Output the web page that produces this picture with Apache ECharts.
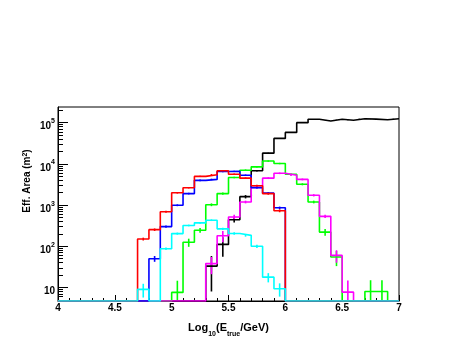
<!DOCTYPE html>
<html><head><meta charset="utf-8">
<script src="https://cdn.jsdelivr.net/npm/echarts@6.0.0/dist/echarts.min.js"></script>
<style>html,body{margin:0;padding:0;background:#fff}#c{width:458px;height:354px}</style>
</head><body><div id="c"></div>
<script>
// ---- data ----
const BIN_EDGES = [4.0,4.1,4.2,4.3,4.4,4.5,4.6,4.7,4.8,4.9,5.0,5.1,5.2,5.3,5.4,5.5,5.6,5.7,5.8,5.9,6.0,6.1,6.2,6.3,6.4,6.5,6.6,6.7,6.8,6.9,7.0];
const X_TICK_LABELS = ['4','4.5','5','5.5','6','6.5','7'];
const Y_DECADE_LABELS = ['10','10^2','10^3','10^4','10^5'];

const black   = [0,0,0,0,0,0,0,0,0,0,0,0,0,33,111,440,1600,6800,18200,41500,58000,100000,121000,110000,121000,114000,124000,122000,118000,124000];
const blackErr= [0,0,0,0,0,0,0,0,0,0,0,0,0,25,55,60,150,300,500,700,900,1000,1000,1000,1000,1000,1000,1000,1000,1000];
const red     = [0,0,0,0,0,0,0,150,253,690,1990,2640,4970,5460,6830,5600,4500,2950,1900,730,0,0,0,0,0,0,0,0,0,0];
const redErr  = [0,0,0,0,0,0,0,12,18,40,90,110,200,200,250,220,200,150,110,60,0,0,0,0,0,0,0,0,0,0];
const blue    = [0,0,0,0,0,0,0,0,50,300,990,1900,3980,4200,6520,6600,5300,2650,1950,860,0,0,0,0,0,0,0,0,0,0];
const blueErr = [0,0,0,0,0,0,0,0,8,20,50,90,170,180,250,250,220,140,110,60,0,0,0,0,0,0,0,0,0,0];
const green   = [0,0,0,0,0,0,0,0,0,0,7.6,125,244,1020,1900,4670,7030,8460,11700,10200,5600,3200,1190,221,55,0,0,8,8,0];
const greenErr= [0,0,0,0,0,0,0,0,0,0,7,28,32,80,110,220,300,350,450,400,280,180,90,42,22,0,0,7,7,0];
const magenta = [0,0,0,0,0,0,0,0,0,0,0,0,0,38,180,513,1190,2670,4500,5900,5300,4200,1730,533,60,7.7,0,0,0,0];
const magentaErr=[0,0,0,0,0,0,0,0,0,0,0,0,0,17,55,70,90,140,220,260,250,210,110,50,20,7,0,0,0,0];
const cyan    = [0,0,0,0,0,0,0,9,0,87,203,320,370,430,265,205,184,100,17.8,9.3,0,0,0,0,0,0,0,0,0,0];
const cyanErr = [0,0,0,0,0,0,0,3.3,0,6,12,15,17,20,15,14,13,9,4.5,3.3,0,0,0,0,0,0,0,0,0,0];

const X_MIN = 4, X_MAX = 7;
const Y_MIN = 4.7, Y_MAX = 2.4e5;

// ---- build ----
const FONT = 'Liberation Sans, Arial, Helvetica, sans-serif';
const LMIN = Math.log10(Y_MIN), LMAX = Math.log10(Y_MAX);
const minorLog = [];
for (let n = 0; n <= 5; n++) for (let k = 2; k <= 9; k++) {
  const l = Math.log10(k * Math.pow(10, n));
  if (l > LMIN && l < LMAX) minorLog.push(l);
}

function stepData(vals) {
  const d = vals.map((v, i) => [BIN_EDGES[i], v > 0 ? v : Y_MIN]);
  d.push([BIN_EDGES[BIN_EDGES.length - 1], vals[vals.length - 1] > 0 ? vals[vals.length - 1] : Y_MIN]);
  return d;
}
function errData(vals, errs) {
  const d = [];
  vals.forEach((v, i) => {
    if (v > 0 && errs[i] > 0) d.push([(BIN_EDGES[i] + BIN_EDGES[i + 1]) / 2, v, errs[i]]);
  });
  return d;
}
function histSeries(name, vals, errs, color) {
  return [{
    name: name, type: 'line', step: 'end', data: stepData(vals), symbol: 'none',
    lineStyle: { color: color, width: 1.6 }, clip: true, silent: true
  }, {
    name: name + ' err', type: 'custom', data: errData(vals, errs), clip: true, silent: true,
    encode: { x: 0, y: 1 },
    renderItem: function (params, api) {
      const x = api.value(0), v = api.value(1), e = api.value(2);
      const top = api.coord([x, Math.min(v + e, Y_MAX)]);
      const bot = api.coord([x, Math.max(v - e, Y_MIN)]);
      return { type: 'line', shape: { x1: top[0], y1: top[1], x2: bot[0], y2: bot[1] },
               style: { stroke: color, lineWidth: 1.6 } };
    }
  }];
}

const series = [].concat(
  histSeries('black', black, blackErr, '#000000'),
  histSeries('green', green, greenErr, '#00ff00'),
  histSeries('magenta', magenta, magentaErr, '#ff00ff'),
  histSeries('blue', blue, blueErr, '#0000ff'),
  histSeries('red', red, redErr, '#ff0000'),
  histSeries('cyan', cyan, cyanErr, '#00ffff')
);

const chart = echarts.init(document.getElementById('c'), null, { renderer: 'canvas' });
chart.setOption({
  animation: false,
  backgroundColor: '#ffffff',
  grid: { left: 58, right: 59, top: 107, bottom: 53, show: true, borderColor: '#000', borderWidth: 1, backgroundColor: 'transparent' },
  xAxis: {
    type: 'value', min: X_MIN, max: X_MAX, interval: 0.5,
    axisLine: { show: true, lineStyle: { color: '#000', width: 1 } },
    axisTick: { show: true, inside: true, length: 6, lineStyle: { color: '#000' } },
    minorTick: { show: true, splitNumber: 5, length: 3, lineStyle: { color: '#000' } },
    splitLine: { show: false },
    axisLabel: {
      margin: 2, color: '#000', fontSize: 10, fontWeight: 'bold', fontFamily: FONT,
      formatter: function (v) {
        const i = Math.round((v - X_MIN) / 0.5);
        return X_TICK_LABELS[i] !== undefined ? X_TICK_LABELS[i] : '';
      }
    },
    name: 'Log{s|10}(E{s|true}/GeV)', nameLocation: 'middle', nameGap: 7,
    nameTextStyle: {
      color: '#000', fontSize: 11, fontWeight: 'bold', fontFamily: FONT, lineHeight: 20,
      rich: { s: { fontSize: 7, fontWeight: 'bold', fontFamily: FONT, color: '#000', lineHeight: 7, verticalAlign: 'bottom' } }
    }
  },
  yAxis: [{
    type: 'log', logBase: 10, min: Y_MIN, max: Y_MAX,
    axisLine: { show: true, lineStyle: { color: '#000', width: 1 } },
    axisTick: { show: true, inside: true, length: 10, lineStyle: { color: '#000' } },
    splitLine: { show: false },
    minorTick: { show: false },
    axisLabel: {
      margin: 3, color: '#000', fontFamily: FONT, showMinLabel: false, showMaxLabel: false,
      formatter: function (v) {
        const n = Math.round(Math.log10(v));
        if (Math.abs(v - Math.pow(10, n)) > 1e-6 * v || n < 1 || n > 5) return '';
        const lab = Y_DECADE_LABELS[n - 1];
        const parts = lab.split('^');
        return parts.length > 1 ? '{b|' + parts[0] + '}{s|' + parts[1] + '}' : '{b|' + parts[0] + '}';
      },
      rich: {
        b: { fontSize: 10, fontWeight: 'bold', fontFamily: FONT, color: '#000', lineHeight: 10, padding: [8, 0, 0, 0] },
        s: { fontSize: 7, fontWeight: 'bold', fontFamily: FONT, color: '#000', lineHeight: 7, padding: [4, 0, 7, 0] }
      }
    }
  }, {
    type: 'value', min: LMIN, max: LMAX, position: 'left', offset: 0,
    axisLine: { show: false },
    axisTick: { show: true, inside: true, length: 5, customValues: minorLog, lineStyle: { color: '#000' } },
    axisLabel: { show: false },
    splitLine: { show: false }
  }],
  graphic: [{
    type: 'text', x: 27, y: 181, rotation: Math.PI / 2,
    style: {
      text: 'Eff. Area (m{s|2})', align: 'center', verticalAlign: 'middle',
      fill: '#000', fontSize: 10, fontWeight: 'bold', fontFamily: FONT,
      rich: { s: { fontSize: 7, fontWeight: 'bold', fontFamily: FONT, fill: '#000', verticalAlign: 'top', lineHeight: 7, padding: [0, 0, 5, 0] } }
    }
  }],
  series: series
});
</script></body></html>
